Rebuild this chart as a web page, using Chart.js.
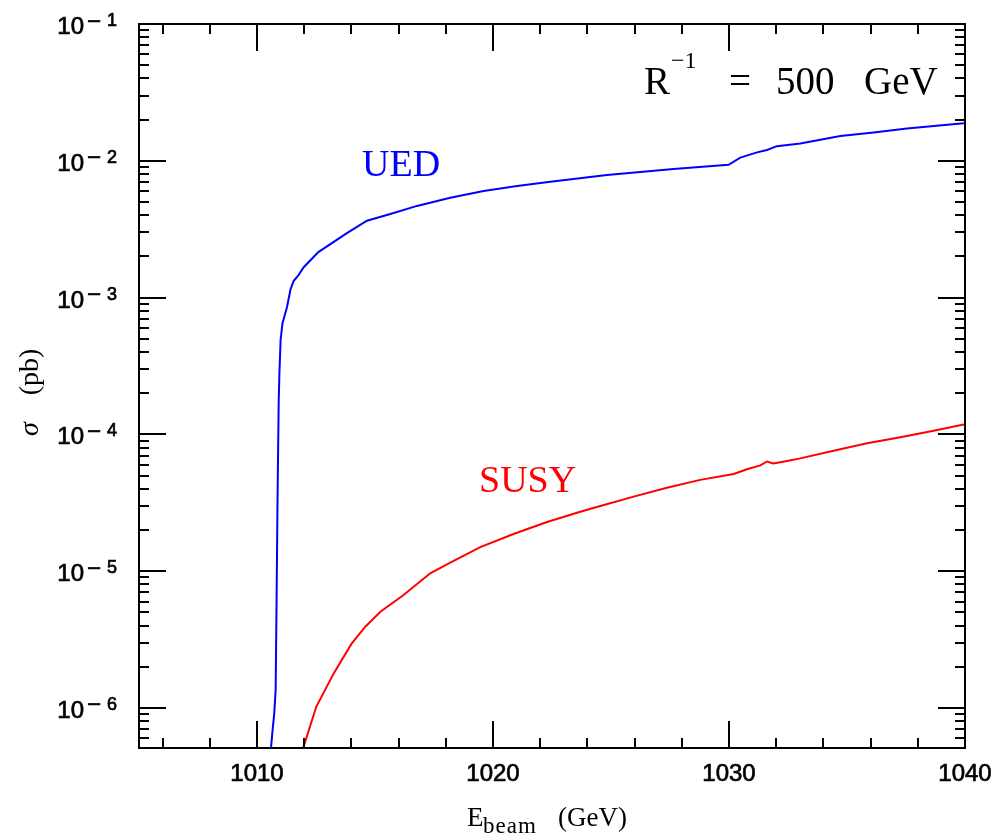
<!DOCTYPE html>
<html><head><meta charset="utf-8">
<script src="https://cdn.jsdelivr.net/npm/chart.js@4/dist/chart.umd.min.js"></script>
<style>html,body{margin:0;padding:0;background:#fff}canvas{display:block}</style>
</head><body>
<div style="width:998px;height:838px"><canvas id="c" width="998" height="838"></canvas></div>
<script>
// ---- data ----
const uedEnergy = [1010.59,1010.65,1010.73,1010.79,1010.83,1010.87,1010.92,1010.95,1011.00,1011.08,1011.27,1011.42,1011.55,1011.76,1011.97,1012.60,1013.81,1014.66,1015.65,1016.78,1018.19,1019.60,1021.02,1022.43,1024.83,1027.65,1029.98,1030.48,1031.19,1031.61,1032.03,1033.02,1034.72,1036.13,1037.54,1039.94,1040.0];
const uedSigma  = [5.0e-7,6.6e-7,9.1e-7,1.35e-6,6.2e-6,3.3e-5,1.78e-4,2.8e-4,4.9e-4,6.5e-4,8.5e-4,1.15e-3,1.32e-3,1.46e-3,1.66e-3,2.15e-3,2.96e-3,3.65e-3,4.08e-3,4.68e-3,5.37e-3,6.01e-3,6.55e-3,7.03e-3,7.87e-3,8.71e-3,9.35e-3,1.055e-2,1.153e-2,1.20e-2,1.28e-2,1.34e-2,1.52e-2,1.61e-2,1.72e-2,1.88e-2,1.89e-2];
const susyEnergy = [1011.94,1012.51,1013.25,1014.00,1014.59,1015.23,1016.21,1017.34,1018.05,1019.46,1020.87,1022.29,1023.70,1024.55,1025.96,1027.37,1028.78,1030.20,1030.76,1031.33,1031.61,1031.88,1032.46,1033.02,1034.43,1035.85,1037.26,1038.67,1040.00];
const susySigma  = [5.0e-7,1.02e-6,1.79e-6,2.94e-6,3.93e-6,5.06e-6,6.70e-6,9.66e-6,1.12e-5,1.50e-5,1.87e-5,2.29e-5,2.72e-5,3.00e-5,3.51e-5,4.07e-5,4.65e-5,5.14e-5,5.56e-5,5.93e-5,6.34e-5,6.12e-5,6.40e-5,6.68e-5,7.60e-5,8.61e-5,9.53e-5,1.064e-4,1.186e-4];

const xTickValues = [1010, 1020, 1030, 1040];
const xTickLabels = ['1010', '1020', '1030', '1040'];
const yTickExponents = [-1, -2, -3, -4, -5, -6];
const yTickExpLabels = ['1', '2', '3', '4', '5', '6'];
const seriesNames = ['UED', 'SUSY'];
const seriesColors = ['#0000ff', '#ff0000'];
const xMin = 1005, xMax = 1040, yMin = 5.1e-7, yMax = 0.1;

function boldText(ctx, t, x, y) {
  ctx.fillText(t, x, y);
  ctx.lineWidth = 0.7;
  ctx.strokeText(t, x, y);
}

const frameAndText = {
  id: 'frameAndText',
  afterDraw(chart) {
    const {ctx, chartArea: a, scales: {x, y}} = chart;
    ctx.save();
    ctx.strokeStyle = '#000';
    ctx.lineWidth = 2;
    ctx.strokeRect(a.left, a.top, a.right - a.left, a.bottom - a.top);
    ctx.beginPath();
    for (let v = xMin + 1; v < xMax; v += 2) {
      const px = Math.round(x.getPixelForValue(v));
      const L = (v % 10 === 0) ? 27 : 10;
      ctx.moveTo(px, a.bottom); ctx.lineTo(px, a.bottom - L);
      ctx.moveTo(px, a.top); ctx.lineTo(px, a.top + L);
    }
    for (let n = -7; n <= -1; n++) {
      for (let m = 1; m <= 9; m++) {
        const v = m * Math.pow(10, n);
        if (v < yMin || v > yMax * 1.0001) continue;
        const py = Math.round(y.getPixelForValue(v));
        const L = (m === 1) ? 27 : 10;
        ctx.moveTo(a.left, py); ctx.lineTo(a.left + L, py);
        ctx.moveTo(a.right, py); ctx.lineTo(a.right - L, py);
      }
    }
    ctx.stroke();

    ctx.fillStyle = '#000';
    ctx.strokeStyle = '#000';
    ctx.font = '24px "Liberation Sans"';
    ctx.textAlign = 'center';
    ctx.textBaseline = 'alphabetic';
    xTickValues.forEach((v, i) => {
      boldText(ctx, xTickLabels[i], x.getPixelForValue(v), a.bottom + 33);
    });
    yTickExponents.forEach((n, i) => {
      const py = y.getPixelForValue(Math.pow(10, n));
      ctx.textAlign = 'right';
      ctx.font = '24px "Liberation Sans"';
      boldText(ctx, '10', 84, py + 10);
      boldText(ctx, '\u2212', 101, py + 4.5);
      ctx.font = '18px "Liberation Sans"';
      boldText(ctx, yTickExpLabels[i], 117, py + 2);
    });

    ctx.textAlign = 'left';
    ctx.font = '27px "Liberation Serif"';
    ctx.fillText('E', 467, 826);
    ctx.font = '23px "Liberation Serif"';
    ctx.letterSpacing = '1px';
    ctx.fillText('beam', 483, 833);
    ctx.letterSpacing = '0px';
    ctx.font = '27px "Liberation Serif"';
    ctx.fillText('(GeV)', 558, 826);

    ctx.save();
    ctx.translate(38, 389);
    ctx.rotate(-Math.PI / 2);
    ctx.textAlign = 'center';
    ctx.font = 'italic 28px "Liberation Serif"';
    ctx.fillText('\u03c3', -40, 0);
    ctx.font = '28px "Liberation Serif"';
    ctx.fillText('(pb)', 17, 0);
    ctx.restore();

    ctx.textAlign = 'left';
    ctx.font = '38px "Liberation Serif"';
    ctx.fillStyle = seriesColors[0];
    ctx.fillText(seriesNames[0], 362, 176);
    ctx.fillStyle = seriesColors[1];
    ctx.fillText(seriesNames[1], 479, 492);
    ctx.fillStyle = '#000';
    ctx.font = '39px "Liberation Serif"';
    ctx.fillText('R', 644, 94);
    ctx.font = '24px "Liberation Serif"';
    ctx.fillText('\u22121', 671, 68);
    ctx.font = '39px "Liberation Serif"';
    ctx.fillText('=', 729, 94);
    ctx.fillText('500', 776, 94);
    ctx.fillText('GeV', 864, 94);
    ctx.restore();
  }
};

new Chart(document.getElementById('c'), {
  type: 'line',
  data: {
    datasets: [
      {label: seriesNames[0], data: uedEnergy.map((e, i) => ({x: e, y: uedSigma[i]})),
       borderColor: seriesColors[0], borderWidth: 2, pointRadius: 0, fill: false, tension: 0},
      {label: seriesNames[1], data: susyEnergy.map((e, i) => ({x: e, y: susySigma[i]})),
       borderColor: seriesColors[1], borderWidth: 2, pointRadius: 0, fill: false, tension: 0}
    ]
  },
  options: {
    responsive: false,
    devicePixelRatio: 1,
    animation: false,
    layout: {padding: {left: 139, right: 33, top: 24, bottom: 90}},
    plugins: {legend: {display: false}, tooltip: {enabled: false}},
    scales: {
      x: {type: 'linear', min: xMin, max: xMax,
          ticks: {display: false}, grid: {display: false}, border: {display: false},
          afterFit(s) { s.height = 0; }},
      y: {type: 'logarithmic', min: yMin, max: yMax,
          ticks: {display: false}, grid: {display: false}, border: {display: false},
          afterFit(s) { s.width = 0; }}
    }
  },
  plugins: [frameAndText]
});
</script>
</body></html>
